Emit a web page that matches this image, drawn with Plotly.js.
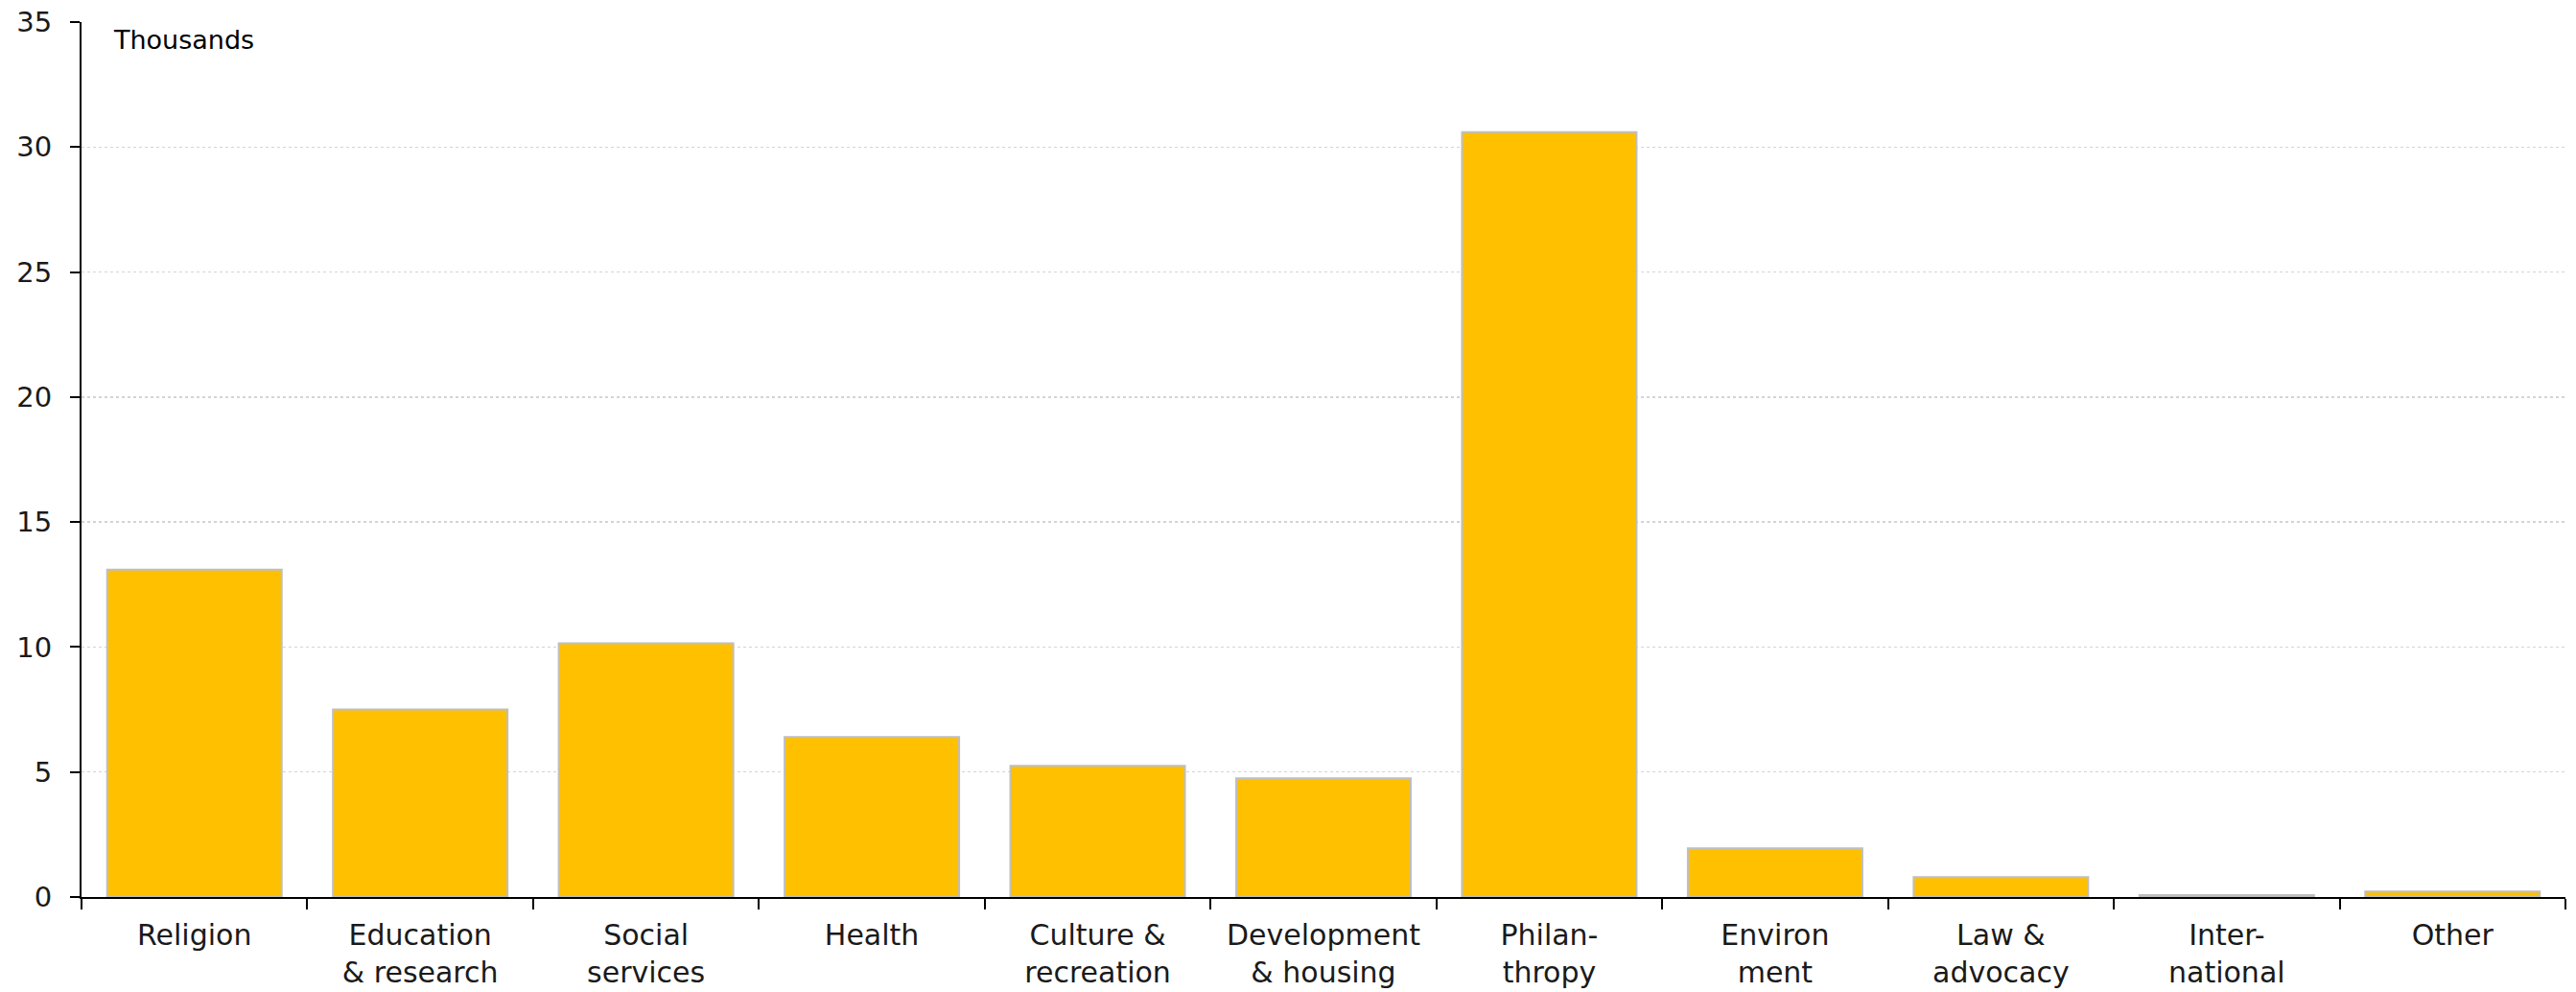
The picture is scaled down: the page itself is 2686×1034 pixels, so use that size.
<!DOCTYPE html>
<html>
<head>
<meta charset="utf-8">
<script src="https://cdn.plot.ly/plotly-3.0.1.min.js"></script>
<style>html,body{margin:0;padding:0;background:#fff;}#chart{width:2686px;height:1034px;}</style>
</head>
<body>
<div id="chart"></div>
<script>
const categories = [
  "Religion",
  "Education<br>& research",
  "Social<br>services",
  "Health",
  "Culture &<br>recreation",
  "Development<br>& housing",
  "Philan-<br>thropy",
  "Environ<br>ment",
  "Law &<br>advocacy",
  "Inter-<br>national",
  "Other"
];
const valuesThousands = [13.1, 7.5, 10.15, 6.4, 5.25, 4.75, 30.6, 1.95, 0.8, 0.08, 0.22];
const yTickValues = [0, 5, 10, 15, 20, 25, 30, 35];
const unitLabel = "Thousands";

const fontFamily = "'DejaVu Sans', 'Liberation Sans', sans-serif";

const trace = {
  type: "bar",
  x: categories,
  y: valuesThousands,
  marker: { color: "#FFC000", line: { color: "#BFBFBF", width: 2 } },
  hoverinfo: "x+y"
};

const layout = {
  width: 2686,
  height: 1034,
  margin: { l: 85, r: 11, t: 23, b: 99 },
  paper_bgcolor: "#ffffff",
  plot_bgcolor: "#ffffff",
  bargap: 0.227,
  showlegend: false,
  font: { family: fontFamily, size: 30, color: "#000000" },
  xaxis: {
    type: "category",
    showline: true,
    linecolor: "#000000",
    linewidth: 2,
    ticks: "outside",
    tickson: "boundaries",
    ticklen: 11,
    tickwidth: 2,
    tickcolor: "#000000",
    showgrid: false,
    zeroline: false,
    ticklabelstandoff: 12,
    tickfont: { family: fontFamily, size: 30, color: "#1a1a1a" },
    fixedrange: true
  },
  yaxis: {
    range: [0, 35],
    tickvals: yTickValues,
    ticktext: yTickValues.map(String),
    showline: true,
    linecolor: "#000000",
    linewidth: 2,
    ticks: "outside",
    ticklen: 10,
    tickwidth: 2,
    tickcolor: "#000000",
    showgrid: true,
    gridcolor: "#d4d4d4",
    griddash: "dot",
    gridwidth: 1.5,
    zeroline: false,
    ticklabelstandoff: 13,
    tickfont: { family: fontFamily, size: 29, color: "#1a1a1a" },
    fixedrange: true
  },
  annotations: [{
    text: unitLabel,
    xref: "paper", yref: "paper",
    x: 0.0105, y: 1,
    xanchor: "left", yanchor: "top",
    yshift: 3,
    showarrow: false,
    bgcolor: "#ffffff",
    borderpad: 5,
    font: { family: fontFamily, size: 27, color: "#000000" }
  }]
};

Plotly.newPlot("chart", [trace], layout, { displayModeBar: false, staticPlot: true });
</script>
</body>
</html>
